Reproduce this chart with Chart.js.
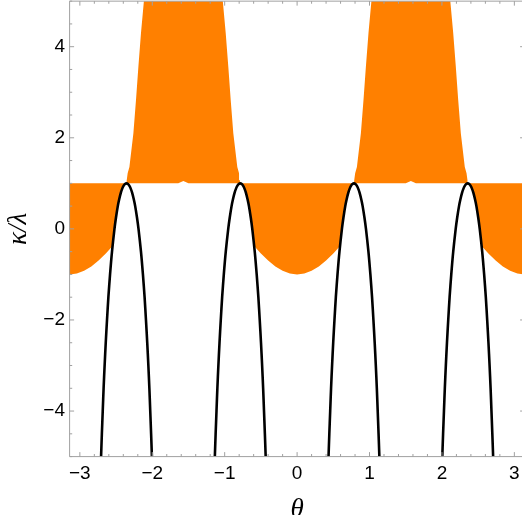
<!DOCTYPE html>
<html><head><meta charset="utf-8">
<script src="https://cdn.jsdelivr.net/npm/chart.js@4"></script>
<style>
html,body{margin:0;padding:0;background:#fff;overflow:hidden;}
#wrap{width:522px;height:515px;overflow:hidden;position:relative;background:#fff;}
canvas{display:block;}
</style></head><body>
<div id="wrap"><canvas id="c" width="527" height="515"></canvas></div>
<script>
// ---- axis ranges and ticks ----
const thetaRange = [-3.14159, 3.14159];
const kappaRange = [-5, 5];
const xTickValues = [-3, -2, -1, 0, 1, 2, 3];
const yTickValues = [-4, -2, 0, 2, 4];
const xMinorTicks = [-2.8,-2.6,-2.4,-2.2,-1.8,-1.6,-1.4,-1.2,-0.8,-0.6,-0.4,-0.2,0.2,0.4,0.6,0.8,1.2,1.4,1.6,1.8,2.2,2.4,2.6,2.8];
const yMinorTicks = [-5,-4.5,-3.5,-3,-2.5,-1.5,-1,-0.5,0.5,1,1.5,2.5,3,3.5,4.5,5];

// ---- black arches: kappa levels and half-widths ----
const archCenters = [-2.356, -0.785, 0.785, 2.356];
const archKappa     = [-5.5, -5, -4.5, -4, -3.5, -3, -2.5, -2, -1.5, -1, -0.5, 0, 0.25, 0.5, 0.65, 0.8, 0.9, 0.95, 0.98, 1];
const archHalfWidth = [0.361, 0.351, 0.340, 0.328, 0.316, 0.302, 0.2865, 0.269, 0.250, 0.227, 0.200, 0.166, 0.145, 0.120, 0.1006, 0.0766, 0.0545, 0.0385, 0.0244, 0];

// ---- orange bowls below kappa = 1 ----
const bowlCenters = [-3.14159, 0, 3.14159];
const bowlHalfWidth = [0, 0.1, 0.2, 0.3, 0.4, 0.5, 0.55, 0.593, 0.601, 0.619, 0.640, 0.665, 0.684, 0.708, 0.7305, 0.7465, 0.7606, 0.785];
const bowlKappa     = [-1, -0.98, -0.921, -0.825, -0.697, -0.54, -0.454, -0.375, -0.25, 0, 0.25, 0.5, 0.65, 0.8, 0.9, 0.95, 0.98, 1];

// ---- orange bands above kappa = 1 ----
const bandCenters = [-1.5708, 1.5708];
const bandKappa     = [1, 1.07, 1.22, 1.36, 2.10, 2.83, 3.56, 4.3, 5, 5.3];
const bandHalfWidth = [0.785, 0.782, 0.769, 0.745, 0.690, 0.654, 0.621, 0.585, 0.545, 0.53];
const notchHalfWidth = 0.07, notchTop = 1.05;

const ORANGE = 'rgb(255,128,0)';

function archPoints(c) {
  const pts = [];
  for (let i = 0; i < archKappa.length; i++) pts.push({x: c - archHalfWidth[i], y: archKappa[i]});
  for (let i = archKappa.length - 2; i >= 0; i--) pts.push({x: c + archHalfWidth[i], y: archKappa[i]});
  return pts;
}
function bowlPoints(c) {
  const pts = [];
  for (let i = bowlKappa.length - 1; i >= 0; i--) pts.push({x: c - bowlHalfWidth[i], y: bowlKappa[i]});
  for (let i = 1; i < bowlKappa.length; i++) pts.push({x: c + bowlHalfWidth[i], y: bowlKappa[i]});
  return pts;
}
function bandPoints(c) {
  const pts = [];
  for (let i = bandKappa.length - 1; i >= 0; i--) pts.push({x: c - bandHalfWidth[i], y: bandKappa[i]});
  pts.push({x: c - notchHalfWidth, y: 1});
  pts.push({x: c, y: notchTop});
  pts.push({x: c + notchHalfWidth, y: 1});
  for (let i = 0; i < bandKappa.length; i++) pts.push({x: c + bandHalfWidth[i], y: bandKappa[i]});
  return pts;
}

const datasets = [];
archCenters.forEach(c => datasets.push({
  data: archPoints(c), showLine: true, borderColor: '#000', borderWidth: 2.6,
  pointRadius: 0, tension: 0.3, fill: false, order: 0, clip: 0
}));
bowlCenters.forEach(c => datasets.push({
  data: bowlPoints(c), showLine: true, borderWidth: 0, borderColor: 'rgba(0,0,0,0)',
  backgroundColor: ORANGE, pointRadius: 0, tension: 0, fill: 'shape', order: 1
}));
bandCenters.forEach(c => datasets.push({
  data: bandPoints(c), showLine: true, borderWidth: 0, borderColor: 'rgba(0,0,0,0)',
  backgroundColor: ORANGE, pointRadius: 0, tension: 0, fill: 'shape', order: 1
}));

const FRAME = '#a0a0a0';
const fmt = v => (v < 0 ? '\u2212' + Math.abs(v) : String(v));

const framePlugin = {
  id: 'frame',
  afterDraw(chart) {
    const {ctx, chartArea: a, scales: {x, y}} = chart;
    ctx.save();
    ctx.strokeStyle = FRAME;
    ctx.lineWidth = 1;
    ctx.beginPath();
    ctx.rect(a.left, a.top, a.right - a.left, a.bottom - a.top);
    ctx.stroke();
    const MAJ = 4.5, MIN = 2.6;
    ctx.beginPath();
    const xt = (v, L) => { const p = x.getPixelForValue(v);
      ctx.moveTo(p, a.bottom); ctx.lineTo(p, a.bottom - L);
      ctx.moveTo(p, a.top); ctx.lineTo(p, a.top + L); };
    const yt = (v, L) => { const p = y.getPixelForValue(v);
      ctx.moveTo(a.left, p); ctx.lineTo(a.left + L, p);
      ctx.moveTo(a.right, p); ctx.lineTo(a.right - L, p); };
    xTickValues.forEach(v => xt(v, MAJ));
    xMinorTicks.forEach(v => xt(v, MIN));
    yTickValues.forEach(v => yt(v, MAJ));
    yMinorTicks.forEach(v => yt(v, MIN));
    ctx.stroke();
    ctx.restore();
  }
};

new Chart(document.getElementById('c'), {
  type: 'scatter',
  data: {datasets},
  plugins: [framePlugin],
  options: {
    responsive: false,
    animation: false,
    events: [],
    layout: {padding: {left: 0, right: 2.4, top: 1.15, bottom: 0}},
    plugins: {legend: {display: false}, tooltip: {enabled: false}},
    scales: {
      x: {
        type: 'linear', min: thetaRange[0], max: thetaRange[1],
        grid: {display: false, drawTicks: false}, border: {display: false},
        afterBuildTicks: s => { s.ticks = xTickValues.map(v => ({value: v})); },
        afterFit: s => { s.height = 58.4; s.paddingLeft = 0; s.paddingRight = 0; },
        ticks: {padding: 6, color: '#000', font: {family: 'Liberation Sans', size: 19}, callback: v => fmt(v), maxRotation: 0, autoSkip: false},
        title: {display: true, text: '\u03b8', color: '#000', padding: {top: 0, bottom: -8},
                font: {family: 'Liberation Serif', style: 'italic', size: 27, lineHeight: 1}}
      },
      y: {
        type: 'linear', min: kappaRange[0], max: kappaRange[1],
        grid: {display: false, drawTicks: false}, border: {display: false},
        afterBuildTicks: s => { s.ticks = yTickValues.map(v => ({value: v})); },
        afterFit: s => { s.width = 69.6; s.paddingTop = 0; s.paddingBottom = 0; },
        ticks: {padding: 4.6, color: '#000', font: {family: 'Liberation Sans', size: 19}, callback: v => fmt(v), autoSkip: false},
        title: {display: true, text: '\u03ba/\u03bb', color: '#000', padding: {top: 5, bottom: 0},
                font: {family: 'Liberation Serif', style: 'italic', size: 27, lineHeight: 1}}
      }
    }
  }
});
</script>
</body></html>
